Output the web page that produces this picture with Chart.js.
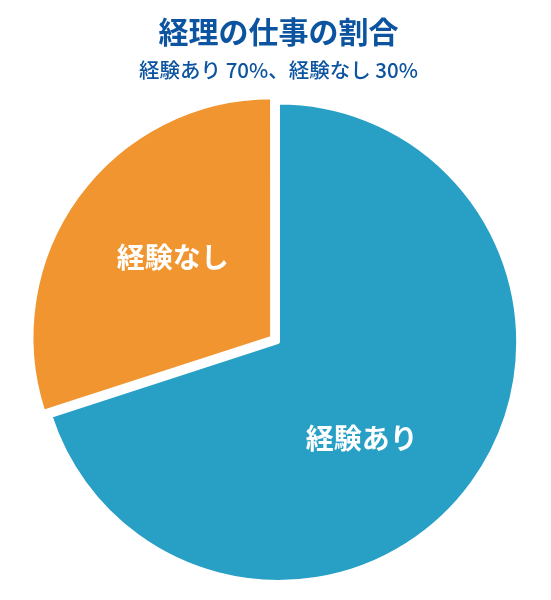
<!DOCTYPE html>
<html>
<head>
<meta charset="utf-8">
<script src="https://cdn.jsdelivr.net/npm/chart.js@4"></script>
<style>
  html, body { margin: 0; padding: 0; background: #ffffff; }
  #wrap { width: 551px; height: 600px; }
</style>
</head>
<body>
<div id="wrap"><canvas id="grafico" width="551" height="600"></canvas></div>
<script>
// Dati del grafico
const categorie = ['経験あり', '経験なし'];
const valori = [70, 30];
const colori = ['#28A0C6', '#F09530'];
const spostamenti = [0, 34]; // Chart.js sposta la fetta di circa offset/4

const titolo = '経理の仕事の割合';
const sottotitolo = '経験あり 70%、経験なし 30%';

const FONT = '"Noto Sans CJK JP", "Noto Sans", sans-serif';

// Plugin per le etichette dentro le fette
const etichetteFette = {
    id: 'etichetteFette',
    afterDatasetsDraw(chart, args, opts) {
        const ctx = chart.ctx;
        const meta = chart.getDatasetMeta(0);
        ctx.save();
        ctx.fillStyle = '#ffffff';
        ctx.font = 'bold 28px ' + FONT;
        ctx.textAlign = 'center';
        ctx.textBaseline = 'middle';
        meta.data.forEach((arc, i) => {
            const p = arc.getProps(['x', 'y', 'startAngle', 'endAngle', 'outerRadius']);
            const half = (p.startAngle + p.endAngle) / 2;
            // stesso spostamento applicato da Chart.js alla fetta
            const off = (spostamenti[i] || 0) / 4 * (1 + 1 - Math.sin(Math.min(Math.PI, p.endAngle - p.startAngle)));
            const cx = p.x + Math.cos(half) * off;
            const cy = p.y + Math.sin(half) * off;
            const mid = half + (opts.ruota[i] || 0) * Math.PI / 180;
            const r = p.outerRadius * 0.53;
            ctx.fillText(categorie[i], cx + Math.cos(mid) * r, cy + Math.sin(mid) * r);
        });
        ctx.restore();
    }
};

new Chart(document.getElementById('grafico').getContext('2d'), {
    type: 'pie',
    data: {
        labels: categorie,
        datasets: [{
            data: valori,
            backgroundColor: colori,
            borderColor: '#ffffff',
            borderWidth: 3,
            offset: spostamenti
        }]
    },
    options: {
        responsive: false,
        animation: false,
        layout: { padding: { left: 6, right: 0, top: 0, bottom: 0 } },
        plugins: {
            legend: { display: false },
            tooltip: { enabled: false },
            etichetteFette: { ruota: [13, 3] },
            title: {
                display: true,
                text: titolo,
                color: '#0D54A0',
                font: { family: FONT, size: 30, weight: 'bold' },
                padding: { top: 14, bottom: 8 }
            },
            subtitle: {
                display: true,
                text: sottotitolo,
                color: '#0D54A0',
                font: { family: FONT, size: 20.5, weight: '500' },
                padding: { top: 0, bottom: 2 }
            }
        }
    },
    plugins: [etichetteFette]
});
</script>
</body>
</html>
